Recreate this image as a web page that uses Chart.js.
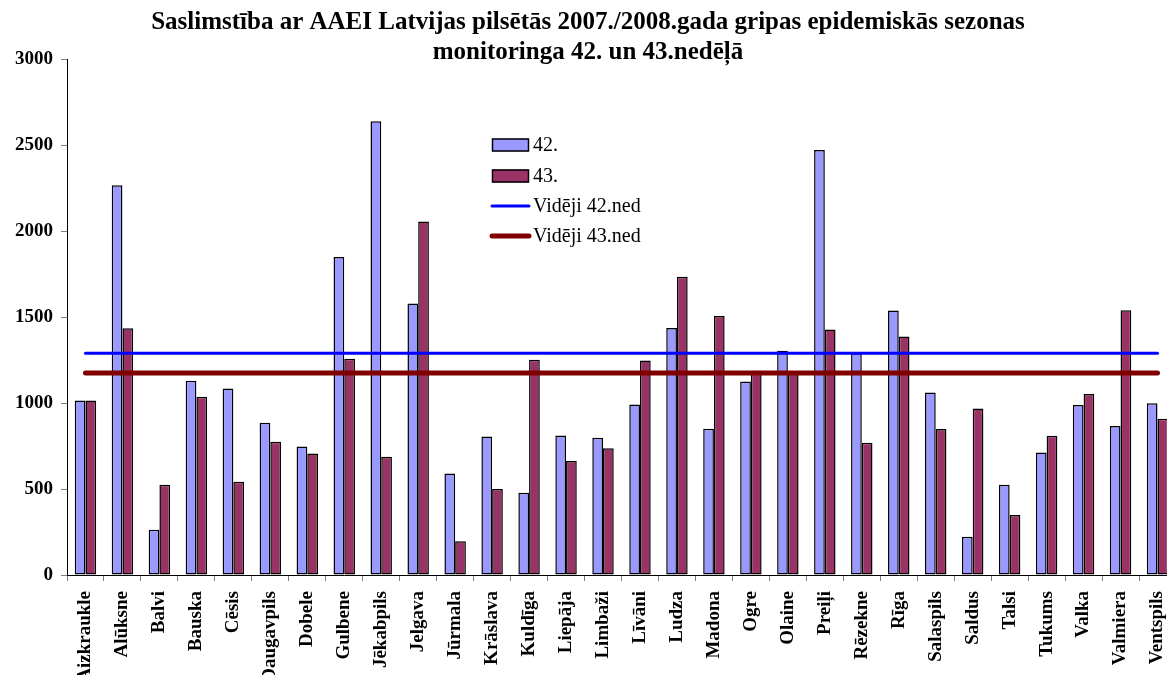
<!DOCTYPE html>
<html lang="lv">
<head>
<meta charset="UTF-8">
<title>Saslimstība ar AAEI</title>
<script src="https://cdn.jsdelivr.net/npm/chart.js@4.4.1/dist/chart.umd.min.js"></script>
<style>
  html, body { margin: 0; padding: 0; background: #fff; overflow: hidden; }
  #wrap { position: relative; width: 1178px; height: 675px; }
</style>
</head>
<body>
<div id="wrap"><canvas id="chart"></canvas></div>
<script>
// ===== DATOS =====
const cities = ['Aizkraukle', 'Alūksne', 'Balvi', 'Bauska', 'Cēsis', 'Daugavpils', 'Dobele',
  'Gulbene', 'Jēkabpils', 'Jelgava', 'Jūrmala', 'Krāslava', 'Kuldīga', 'Liepāja', 'Limbaži',
  'Līvāni', 'Ludza', 'Madona', 'Ogre', 'Olaine', 'Preiļi', 'Rēzekne', 'Rīga', 'Salaspils',
  'Saldus', 'Talsi', 'Tukums', 'Valka', 'Valmiera', 'Ventspils'];

const week42 = [1015, 2268, 263, 1130, 1085, 886, 748, 1851, 2641, 1580, 591, 806, 479, 812, 799,
  992, 1437, 851, 1126, 1305, 2474, 1290, 1539, 1062, 223, 525, 713, 989, 867, 1000];

const week43 = [1015, 1436, 525, 1037, 543, 775, 707, 1258, 688, 2057, 196, 500, 1252, 663, 737,
  1248, 1735, 1508, 1188, 1186, 1429, 770, 1388, 849, 969, 349, 810, 1053, 1541, 909];

const avg42 = 1291;
const avg43 = 1175;

const yTicks = [0, 500, 1000, 1500, 2000, 2500, 3000];

const titleLines = [
  'Saslimstība ar AAEI Latvijas pilsētās 2007./2008.gada gripas epidemiskās sezonas',
  'monitoringa 42. un 43.nedēļā'
];

const serif = '"Liberation Serif", "Times New Roman", serif';

// legend drawn inside the plot, like the original
const insideLegend = {
  id: 'insideLegend',
  afterDraw(chart) {
    const ctx = chart.ctx;
    const rows = [145, 176, 206, 236];
    const x0 = 492, x1 = 529;
    ctx.save();
    ctx.font = '20px ' + serif;
    ctx.textBaseline = 'middle';
    chart.data.datasets.forEach((ds, i) => {
      const y = rows[i];
      if (ds.type === 'line') {
        ctx.strokeStyle = ds.borderColor;
        ctx.lineWidth = ds.borderWidth;
        ctx.lineCap = 'round';
        ctx.beginPath();
        ctx.moveTo(x0, y);
        ctx.lineTo(x1, y);
        ctx.stroke();
      } else {
        ctx.fillStyle = ds.backgroundColor;
        ctx.fillRect(x0, y - 6.5, x1 - x0, 13);
        ctx.strokeStyle = '#000';
        ctx.lineWidth = 1.5;
        ctx.strokeRect(x0 + 0.5, y - 6, x1 - x0 - 1, 12);
      }
      ctx.fillStyle = '#000';
      ctx.fillText(ds.label, 533, y + 1);
    });
    ctx.restore();
  }
};

const barStyle = {
  borderColor: '#000',
  borderWidth: 1.5,
  borderSkipped: false,
  barPercentage: 1,
  categoryPercentage: 0.58,
  order: 2
};

const chart = new Chart(document.getElementById('chart'), {
  type: 'bar',
  data: {
    labels: cities,
    datasets: [
      { ...barStyle, label: '42.', data: week42, backgroundColor: '#9999FF' },
      { ...barStyle, label: '43.', data: week43, backgroundColor: '#993366' },
      {
        type: 'line',
        label: 'Vidēji 42.ned',
        data: cities.map(() => avg42),
        borderColor: '#0000FF',
        borderWidth: 3,
        borderCapStyle: 'round',
        pointRadius: 0,
        fill: false,
        order: 1
      },
      {
        type: 'line',
        label: 'Vidēji 43.ned',
        data: cities.map(() => avg43),
        borderColor: '#800000',
        borderWidth: 5,
        borderCapStyle: 'round',
        pointRadius: 0,
        fill: false,
        order: 0
      }
    ]
  },
  options: {
    responsive: true,
    maintainAspectRatio: false,
    animation: false,
    layout: { padding: { left: 0, right: 2, top: 0, bottom: 0 } },
    plugins: {
      legend: { display: false },
      tooltip: { enabled: false },
      title: {
        display: true,
        text: titleLines,
        color: '#000',
        font: { family: serif, size: 25, weight: 'bold', lineHeight: 30 / 25 },
        padding: { top: 8, bottom: -8.5 }
      }
    },
    scales: {
      x: {
        grid: { display: true, offset: true, drawOnChartArea: false, tickLength: 6, color: '#808080' },
        border: { display: true, color: '#000', width: 1 },
        ticks: {
          autoSkip: false,
          maxRotation: 90,
          minRotation: 90,
          padding: 10,
          color: '#000',
          font: { family: serif, size: 19, weight: 'bold' }
        },
        afterFit(scale) {
          scale.height = 100;
          // the plot runs past the right edge in the original
          scale.paddingLeft = 0;
          scale.paddingRight = 0;
        }
      },
      y: {
        min: 0,
        max: 3000,
        grid: { display: true, drawOnChartArea: false, tickLength: 6, color: '#808080' },
        border: { display: true, color: '#000', width: 1 },
        afterBuildTicks(scale) { scale.ticks = yTicks.map(v => ({ value: v })); },
        ticks: {
          padding: 8,
          color: '#000',
          font: { family: serif, size: 19, weight: 'bold' },
          callback: v => String(v)
        },
        afterFit(scale) { scale.width = 67; }
      }
    }
  },
  plugins: [insideLegend]
});
</script>
</body>
</html>
